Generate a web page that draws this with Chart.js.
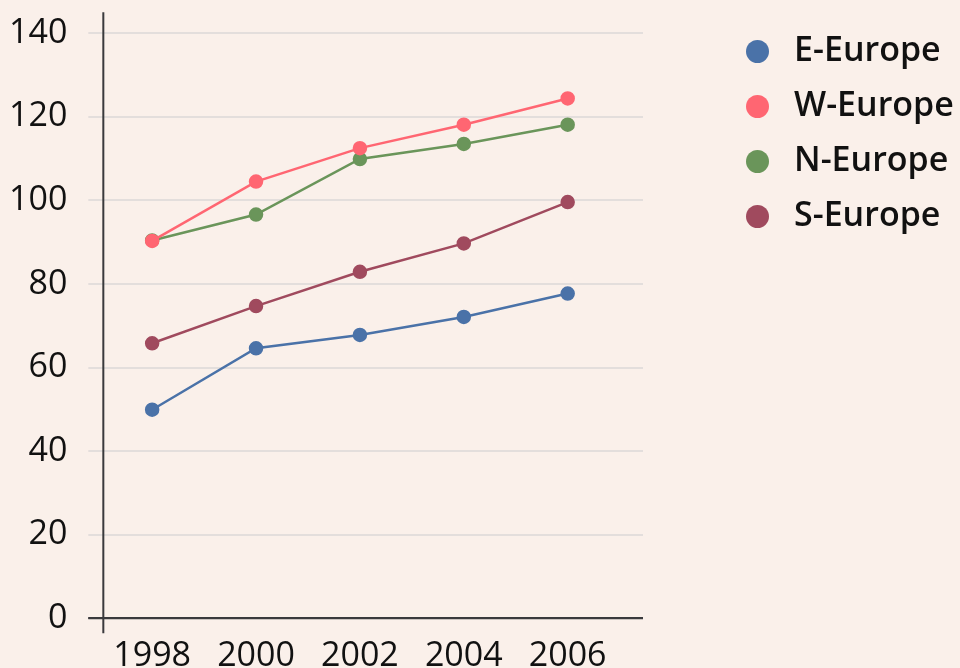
<!DOCTYPE html>
<html>
<head>
<meta charset="utf-8">
<script src="https://cdn.jsdelivr.net/npm/chart.js@4"></script>
<style>
  html, body { margin: 0; padding: 0; background: #faf0ea; }
  #wrap { position: relative; width: 960px; height: 668px; overflow: hidden; }
  #legend { position: absolute; left: 746px; top: 24px; font-family: 'Open Sans', sans-serif; }
  .item { display: flex; align-items: center; height: 55px; font-size: 34px; font-weight: 600; color: #111; white-space: nowrap; }
  .item span.txt { position: relative; top: -4px; }
  .dot { width: 23px; height: 23px; border-radius: 50%; margin-right: 25px; }
</style>
</head>
<body>
<div id="wrap">
  <canvas id="chart" width="960" height="668"></canvas>
  <div id="legend"></div>
</div>
<script>
// chart data
const years = [1998, 2000, 2002, 2004, 2006];
const yTicks = [0, 20, 40, 60, 80, 100, 120, 140];
const seriesNames = ['E-Europe', 'W-Europe', 'N-Europe', 'S-Europe'];
const seriesColors = ['#4a72a8', '#ff6672', '#6a955a', '#a04a5e'];
const eEurope = [49.9, 64.6, 67.8, 72.1, 77.7];
const wEurope = [90.3, 104.5, 112.5, 118.1, 124.4];
const nEurope = [90.4, 96.6, 109.9, 113.5, 118.1];
const sEurope = [65.8, 74.7, 82.9, 89.7, 99.6];
const seriesValues = [eEurope, wEurope, nEurope, sEurope];

const ctx = document.getElementById('chart');
const axisColor = '#3a3a3d';

// draw both axis lines, a bit past where they cross
const axisLines = {
  id: 'axisLines',
  afterDraw(chart) {
    const { ctx, chartArea } = chart;
    ctx.save();
    ctx.strokeStyle = axisColor;
    ctx.lineWidth = 2;
    ctx.beginPath();
    ctx.moveTo(chartArea.left, chartArea.top - 21);
    ctx.lineTo(chartArea.left, chartArea.bottom + 15);
    ctx.moveTo(chartArea.left - 15, chartArea.bottom);
    ctx.lineTo(chartArea.right, chartArea.bottom);
    ctx.stroke();
    ctx.restore();
  }
};

const datasets = seriesNames.map((name, i) => ({
  label: name,
  data: years.map((yr, j) => ({ x: yr, y: seriesValues[i][j] })),
  borderColor: seriesColors[i],
  backgroundColor: seriesColors[i],
  borderWidth: 2.5,
  pointRadius: 6,
  pointHoverRadius: 6,
  tension: 0
}));

// W-Europe drawn over N-Europe where they meet at 1998
datasets[1].order = 0;
datasets[2].order = 1;

const tickFont = { family: "'Open Sans', sans-serif", size: 34 };

new Chart(ctx, {
  type: 'line',
  data: { datasets },
  options: {
    responsive: false,
    animation: false,
    layout: { padding: { left: -12, top: 0, right: 317, bottom: -27 } },
    plugins: { legend: { display: false }, tooltip: { enabled: false } },
    scales: {
      x: {
        type: 'linear',
        min: 1997.06,
        max: 2007.45,
        afterBuildTicks: scale => { scale.ticks = years.map(v => ({ value: v })); },
        grid: { display: false, drawTicks: false },
        border: { display: false },
        ticks: { color: '#111', font: tickFont, padding: 18, maxRotation: 0, callback: v => String(v) }
      },
      y: {
        min: 0,
        max: 140,
        afterBuildTicks: scale => { scale.ticks = yTicks.map(v => ({ value: v })); },
        grid: {
          color: c => c.tick && c.tick.value === 0 ? axisColor : '#e3dedc',
          lineWidth: 2,
          tickLength: 15
        },
        border: { display: false },
        ticks: { color: '#111', font: { ...tickFont, lineHeight: 0.72 }, padding: 21 }
      }
    }
  },
  plugins: [axisLines]
});

// legend as html
const legend = document.getElementById('legend');
seriesNames.forEach((name, i) => {
  const row = document.createElement('div');
  row.className = 'item';
  row.innerHTML = '<span class="dot" style="background:' + seriesColors[i] + '"></span><span class="txt">' + name + '</span>';
  legend.appendChild(row);
});
</script>
</body>
</html>
